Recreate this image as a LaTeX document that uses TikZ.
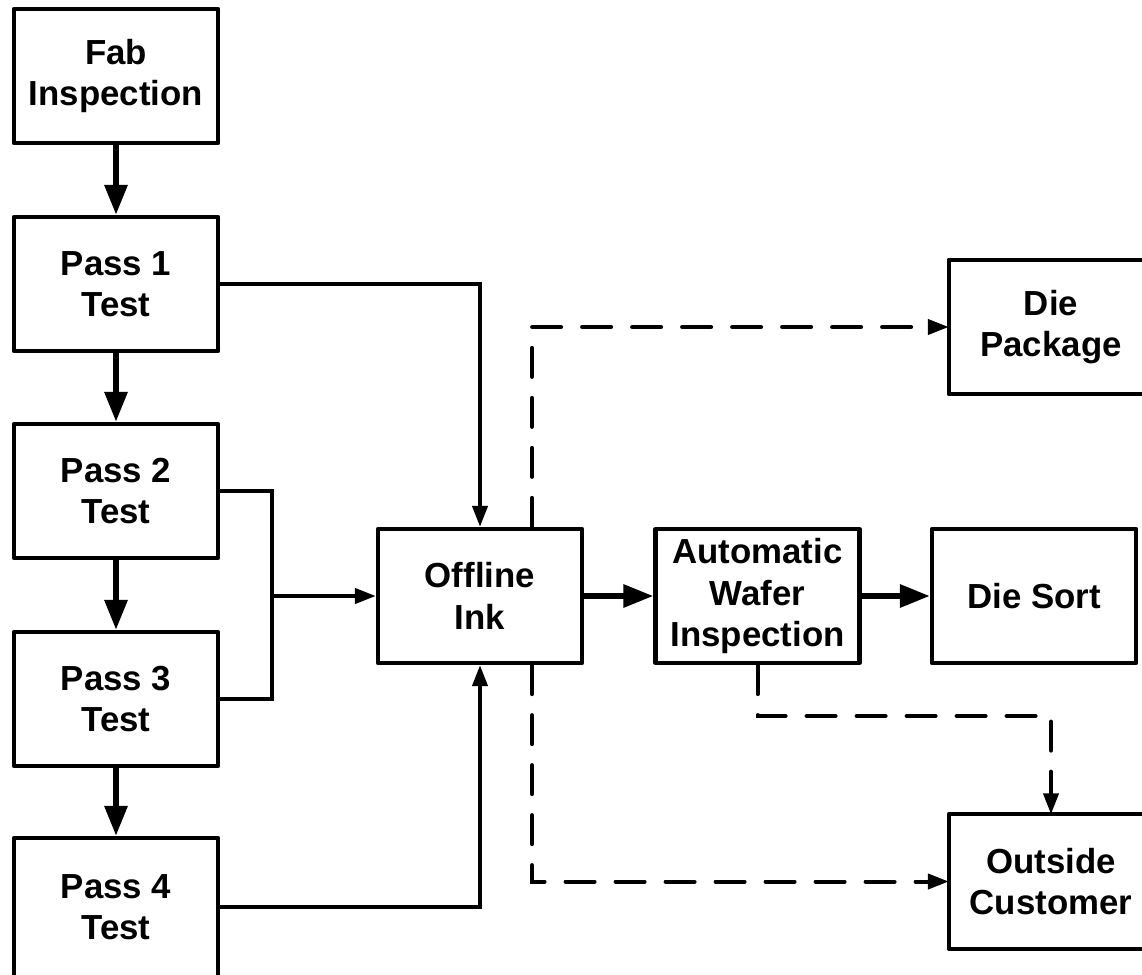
\documentclass[tikz,border=0pt]{standalone}
\usepackage{fontspec}
\setmainfont{Liberation Sans}
\usetikzlibrary{arrows.meta}
\begin{document}
\begin{tikzpicture}[x=1pt,y=-1pt,
  boxtext/.style={minimum width=204pt,minimum height=134pt,inner sep=0pt,align=center,
    font=\fontsize{34.8}{41.5}\selectfont\bfseries},
  box/.style={boxtext,draw,line width=4.2pt,line join=round},
  openside/.style={line width=4.2pt,line join=round},
  thickarrow/.style={line width=6pt,-{Triangle[length=30pt,width=22pt]}},
  thinarrow/.style={line width=4pt,-{Triangle[length=21pt,width=15pt]}},
  thinline/.style={line width=4pt},
  dasharrow/.style={thinarrow,line cap=round,dash pattern=on 29pt off 21pt}
]
\useasboundingbox (0,0) rectangle (1142,974);
\clip (0,0) rectangle (1142,974);
\fill[white] (0,0) rectangle (1142,974);

\node[box] (fab)  at (116,76)  {Fab\\Inspection};
\node[box] (p1)   at (116,284) {Pass 1\\Test};
\node[box] (p2)   at (116,491) {Pass 2\\Test};
\node[box] (p3)   at (116,699) {Pass 3\\Test};
\node[box,minimum height=150pt] (p4) at (116,913) {};
\node[boxtext,minimum height=0pt] (p4t) at (116,907) {Pass 4\\Test};
\node[box] (ink)  at (480,596) {Offline\\Ink};
\node[box] (awi)  at (757.5,596) {Automatic\\Wafer\\Inspection};
\node[box] (sort) at (1034,596) {Die Sort};
\node[boxtext] (pkg)  at (1051,327) {Die\\Package};
\node[boxtext] (cust) at (1051,881.5) {Outside\\Customer};
\draw[openside] ([xshift=30pt]pkg.north east) -- (pkg.north west) -- (pkg.south west) -- ([xshift=30pt]pkg.south east);
\draw[openside] ([xshift=30pt]cust.north east) -- (cust.north west) -- (cust.south west) -- ([xshift=30pt]cust.south east);

\coordinate (j) at (272,596);
\coordinate (awiturn) at (757.5,716);

% vertical flow
\draw[thickarrow] (fab.south) -- (p1.north);
\draw[thickarrow] (p1.south) -- (p2.north);
\draw[thickarrow] (p2.south) -- (p3.north);
\draw[thickarrow] (p3.south) -- (p4.north);

% into Offline Ink
\draw[thinarrow] (p1.east) -| (ink.north);
\draw[thinline] (p2.east) -| (j);
\draw[thinline] (p3.east) -| (j);
\draw[thinarrow] (j) -- (ink.west);
\draw[thinarrow] (p4.east |- p4t.center) -| (ink.south);

% main line
\draw[thickarrow] (ink.east) -- (awi.west);
\draw[thickarrow] (awi.east) -- (sort.west);

% dashed outputs
\draw[dasharrow] ([xshift=52pt]ink.north) |- (pkg.west);
\draw[dasharrow] ([xshift=52pt]ink.south) |- (cust.west);
\draw[dasharrow] (awi.south) -- (awiturn) -| (cust.north);
\end{tikzpicture}
\end{document}
